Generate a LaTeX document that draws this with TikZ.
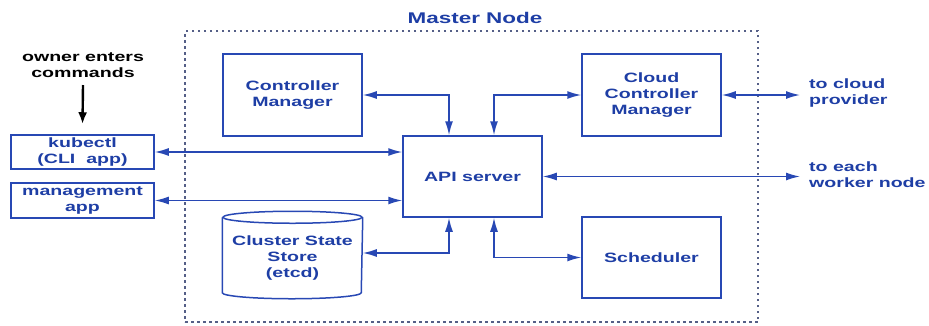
\documentclass[tikz,border=0pt]{standalone}
\usepackage{fontspec}
\setmainfont{Liberation Sans}[FakeStretch=1.45]
\usetikzlibrary{arrows.meta}
\definecolor{knavy}{RGB}{30,62,165}
\definecolor{kline}{RGB}{40,72,180}
\definecolor{kdot}{RGB}{85,95,135}

\begin{document}
\begin{tikzpicture}[x=1pt, y=-1pt,
    every node/.style={font=\fontsize{13.5}{16}\selectfont\bfseries},
    box/.style={draw=kline, line width=1.5pt, text=knavy, align=center,
                minimum width=139pt, minimum height=82pt, inner sep=0pt},
    link/.style={kline, line width=1.5pt,
                 {Latex[length=14pt,width=8pt]}-{Latex[length=14pt,width=8pt]}},
    tag/.style={text=knavy, align=left, anchor=west, inner sep=0pt}]
    \useasboundingbox (0,0) rectangle (929,325);
    % 先画虚线框和标题
    \node[draw=kdot, dash pattern=on 2.5pt off 3.5pt, line width=1.2pt,
          minimum width=573pt, minimum height=291pt] (master) at (471.5,176.5) {};
    \node[text=knavy, font=\fontsize{15.5}{18}\selectfont\bfseries] (title) at (475,17.5) {Master Node};
    % 左边的输入
    \node[align=center] (owner) at (83,65) {owner enters\\commands};
    \node[box, minimum width=143pt, minimum height=34pt] (kubectl) at (82.5,152) {kubectl\\(CLI\ \ app)};
    \node[box, minimum width=143pt, minimum height=35pt] (mgmt) at (82.5,200.5) {management\\app};
    \draw[-{Latex[length=12pt,width=9pt]}, line width=2.4pt] ([yshift=-4pt]owner.south) -- ([yshift=10pt]kubectl.north);
    % 框里的各个组件
    \node[box] (cm) at (292.5,95) {Controller\\Manager};
    \node[box, minimum height=81pt] (api) at (472.5,176.5) {API server};
    \node[box] (ccm) at (651.5,95) {Cloud\\Controller\\Manager};
    \node[box, minimum height=81pt] (sched) at (651.5,257.5) {Scheduler};
    \node[box, draw=none, minimum height=80pt] (etcd) at (292.5,258) {Cluster State\\Store\\(etcd)};
    \draw[kline, line width=1.5pt] (etcd.north) circle[x radius=69.5pt, y radius=6pt];
    \draw[kline, line width=1.5pt] (etcd.north west) -- ([yshift=6pt]etcd.south west)
        arc[start angle=180, end angle=360, x radius=69.5pt, y radius=6pt] -- (etcd.north east);
    % 右边的文字
    \node[tag] (cloud) at (809,93) {to cloud\\provider};
    \node[tag] (worker) at (809,175) {to each\\worker node};
    % 双向箭头
    \draw[link] (kubectl.east) -- (kubectl.east -| api.west);
    \draw[link] (mgmt.east) -- (mgmt.east -| api.west);
    \draw[link] (cm.east) -| ([xshift=-23.5pt]api.north);
    \draw[link] ([xshift=21.5pt]api.north) |- (ccm.west);
    \draw[link] ([yshift=5pt]etcd.east) -| ([xshift=-23.5pt]api.south);
    \draw[link] ([xshift=21.5pt]api.south) |- (sched.west);
    \draw[link, shorten >=9pt] (ccm.east) -- (ccm.east -| cloud.west);
    \draw[link, shorten >=9pt] (api.east) -- (api.east -| worker.west);
\end{tikzpicture}
\end{document}
